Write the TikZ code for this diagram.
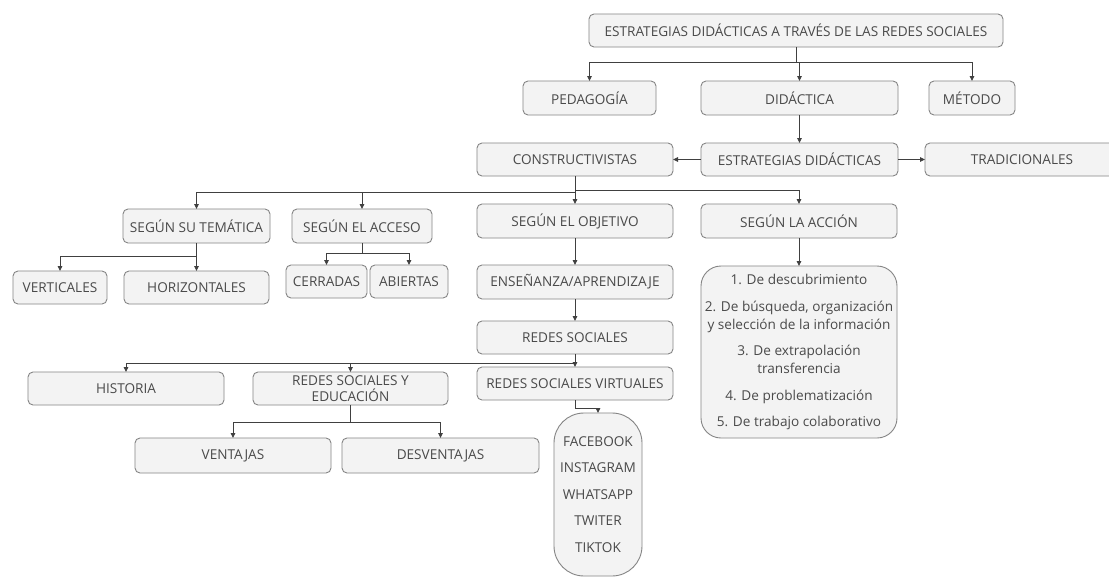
\documentclass[tikz,border=0pt]{standalone}
\usepackage{fontspec}
\setmainfont{Open Sans}
\usetikzlibrary{arrows.meta}
\definecolor{boxfill}{HTML}{F3F3F3}
\definecolor{boxline}{HTML}{858585}
\definecolor{txt}{HTML}{4A4A4A}
\definecolor{conn}{HTML}{404040}
\begin{document}
\begin{tikzpicture}[x=1pt,y=-1pt,
  box/.style={draw=boxline, fill=boxfill, rounded corners=5pt, line width=0.9pt,
    text=txt, font=\fontsize{13.6}{16}\selectfont, align=center, inner sep=0pt, outer sep=0pt},
  sz/.style 2 args={minimum width=#1pt, minimum height=#2pt},
  arr/.style={draw=conn, line width=0.9pt, -{Triangle[length=5pt,width=4.5pt]}},
  listbox/.style={box, font=\fontsize{13.6}{18}\selectfont}]
\fill[white] (0,0) rectangle (1109,579);
\useasboundingbox (0,0) rectangle (1109,579);

% level 1-3
\node[box, sz={414}{33}] (title) at (796,30.5) {ESTRATEGIAS DIDÁCTICAS A TRAVÉS DE LAS REDES SOCIALES};
\node[box, sz={133}{34}] (ped) at (589.5,98) {PEDAGOGÍA};
\node[box, sz={197}{34}] (did) at (799.5,98) {DIDÁCTICA};
\node[box, sz={86}{34}] (met) at (972,98) {MÉTODO};
\node[box, sz={196}{33}] (cons) at (575,159.5) {CONSTRUCTIVISTAS};
\node[box, sz={197}{33}] (estr) at (799.5,159.5) {ESTRATEGIAS DIDÁCTICAS};
\begin{scope}
\clip (0,0) rectangle (1109,579);
\node[box, sz={194}{33}] (trad) at (1022,159.5) {TRADICIONALES};
\end{scope}

% level 4
\node[box, sz={147}{34}] (stem) at (196.5,226) {SEGÚN SU TEMÁTICA};
\node[box, sz={140}{34}] (sacc) at (362,226) {SEGÚN EL ACCESO};
\node[box, sz={196}{34}] (sobj) at (575,221) {SEGÚN EL OBJETIVO};
\node[box, sz={196}{34}] (sacci) at (799,221) {SEGÚN LA ACCIÓN};

% level 5
\node[box, sz={94}{33}] (vert) at (60,287.5) {VERTICALES};
\node[box, sz={145}{33}] (hori) at (196.5,287.5) {HORIZONTALES};
\node[box, sz={81}{33}] (cerr) at (326.5,281.5) {CERRADAS};
\node[box, sz={78}{33}] (abie) at (409,281.5) {ABIERTAS};
\node[box, sz={196}{34}] (ense) at (575,282) {ENSEÑANZA/APRENDIZAJE};
\node[box, sz={196}{33}] (reds) at (575,337.5) {REDES SOCIALES};
\node[box, sz={196}{33}] (rsv) at (575,383.5) {REDES SOCIALES VIRTUALES};
\node[box, sz={196}{33}] (hist) at (126,388.5) {HISTORIA};
\node[box, sz={195}{33}, font=\fontsize{13.6}{15.5}\selectfont] (rsye) at (350.5,388.5) {REDES SOCIALES Y\\EDUCACIÓN};
\node[box, sz={196}{35}] (vent) at (233,455.5) {VENTAJAS};
\node[box, sz={197}{35}] (desv) at (440.5,455.5) {DESVENTAJAS};

% lists
\node[listbox, sz={88}{163}, rounded corners=30pt] (soc) at (598,494.5)
  {FACEBOOK\\[8.5pt]INSTAGRAM\\[8.5pt]WHATSAPP\\[8.5pt]TWITER\\[8.5pt]TIKTOK};
\node[listbox, sz={196}{172}, rounded corners=20pt] (acc) at (799,352)
  {1. De descubrimiento\\[8.5pt]2. De búsqueda, organización\\y selección de la información\\[8.5pt]3. De extrapolación\\transferencia\\[8.5pt]4. De problematización\\[8.5pt]5. De trabajo colaborativo};

% connectors
\draw[arr] (title.south) -- ++(0,15) -| (ped.north);
\draw[arr] (title.south) -- ++(0,15) -| (did.north);
\draw[arr] (title.south) -- ++(0,15) -| (met.north);
\draw[arr] (did.south) -- (estr.north);
\draw[arr] (estr.west) -- (cons.east);
\draw[arr] (estr.east) -- (trad.west);
\draw[arr] (cons.south) -- ++(0,16) -| (stem.north);
\draw[arr] (cons.south) -- ++(0,16) -| (sacc.north);
\draw[arr] (cons.south) -- (sobj.north);
\draw[arr] (cons.south) -- ++(0,14) -| (sacci.north);
\draw[arr] (stem.south) -- ++(0,13) -| (vert.north);
\draw[arr] (stem.south) -- (hori.north);
\draw[arr] (sacc.south) -- ++(0,10) -| (cerr.north);
\draw[arr] (sacc.south) -- ++(0,10) -| (abie.north);
\draw[arr] (sacci.south) -- (acc.north);
\draw[arr] (sobj.south) -- (ense.north);
\draw[arr] (ense.south) -- (reds.north);
\draw[arr] (reds.south) -- ++(0,9) -| (hist.north);
\draw[arr] (reds.south) -- ++(0,9) -| (rsye.north);
\draw[arr] (reds.south) -- (rsv.north);
\draw[arr] (rsye.south) -- ++(0,17) -| (vent.north);
\draw[arr] (rsye.south) -- ++(0,17) -| (desv.north);
\draw[arr] (rsv.south) -- ++(0,8) -| (soc.north);
\end{tikzpicture}
\end{document}
